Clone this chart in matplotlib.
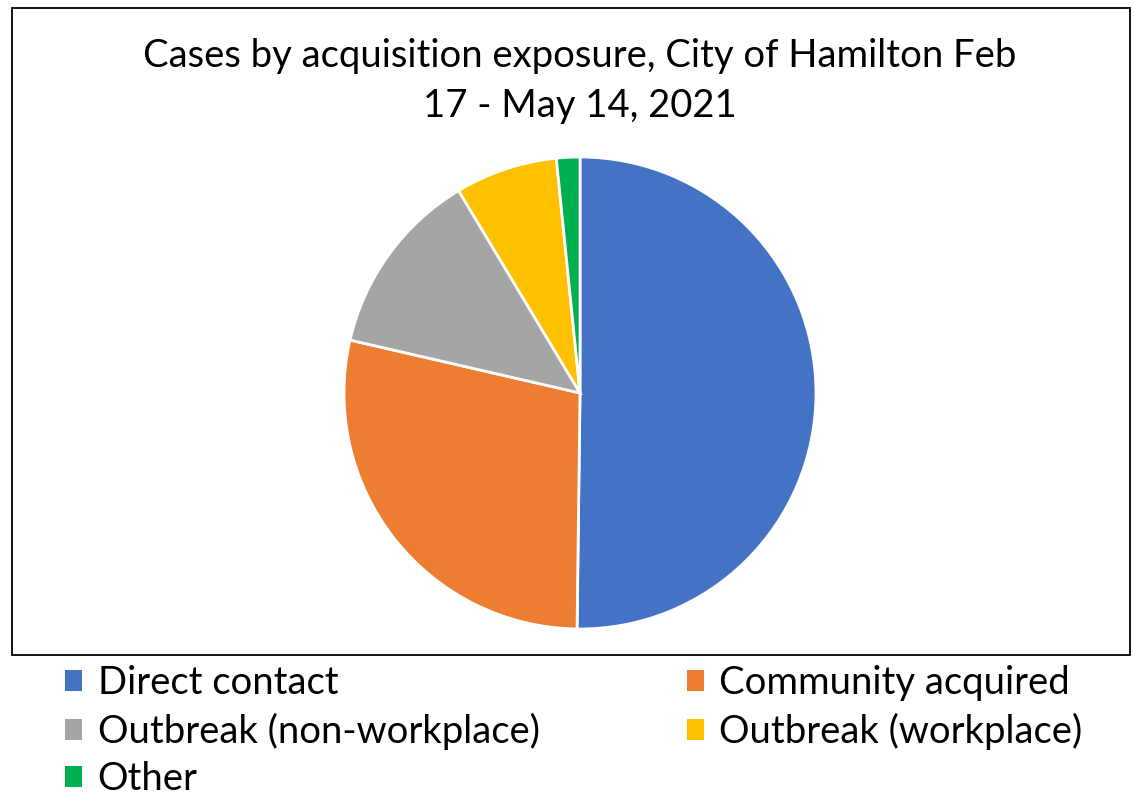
import matplotlib
matplotlib.use("Agg")
import matplotlib.pyplot as plt
from matplotlib import font_manager
from matplotlib.patches import Rectangle, Patch

categories = ["Direct contact", "Community acquired", "Outbreak (non-workplace)",
              "Outbreak (workplace)", "Other"]
values = [50.2, 28.4, 12.8, 7.0, 1.6]
colors = ["#4472C4", "#ED7D31", "#A5A5A5", "#FFC000", "#00B050"]
title = "Cases by acquisition exposure, City of Hamilton Feb\n17 - May 14, 2021"

plt.rcParams["font.family"] = ["Lato", "DejaVu Sans"]

W, H = 1134, 798
fig = plt.figure(figsize=(W / 100, H / 100), dpi=100)

# chart border
fig.patches.append(Rectangle((12 / W, 1 - 655 / H), (1130 - 12) / W, (655 - 8) / H,
                             transform=fig.transFigure, fill=False,
                             edgecolor="black", linewidth=1.3))

cx, cy, r = 580, 393, 236
ax = fig.add_axes([(cx - r) / W, 1 - (cy + r) / H, 2 * r / W, 2 * r / H])
wedges, _ = ax.pie(values, colors=colors, startangle=90, counterclock=False,
                   wedgeprops=dict(edgecolor="white", linewidth=2))
ax.set_xlim(-1, 1)
ax.set_ylim(-1, 1)
ax.set_aspect("equal")
ax.axis("off")

fig.text(580 / W, 1 - 81 / H, title, ha="center", va="center", fontsize=27.5,
         linespacing=1.5)

order = [0, 2, 4, 1, 3]
handles = [Patch(facecolor=colors[i], edgecolor="none") for i in order]
labels = [categories[i] for i in order]
fig.legend(handles, labels, loc="upper left", bbox_to_anchor=(50 / W, 1 - 650 / H),
           ncol=2, frameon=False, fontsize=27.5, handlelength=0.45, handleheight=0.45,
           handletextpad=0.4, columnspacing=3.85, labelspacing=0.3,
           borderaxespad=0.0)

fig.savefig("out.png", dpi=100)
